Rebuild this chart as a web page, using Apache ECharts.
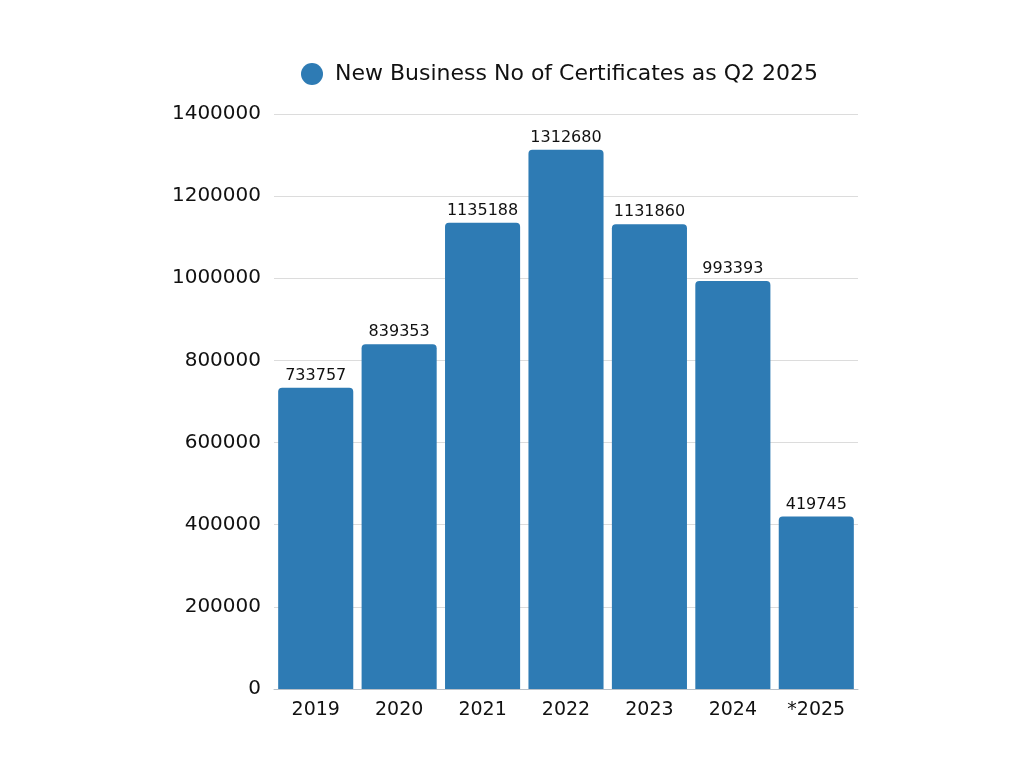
<!DOCTYPE html>
<html><head><meta charset="utf-8">
<script src="https://cdn.jsdelivr.net/npm/echarts@6/dist/echarts.min.js"></script>
<style>html,body{margin:0;padding:0;background:#fff}#c{width:1024px;height:768px}</style>
</head><body><div id="c"></div>
<script>
const categories = ['2019','2020','2021','2022','2023','2024','*2025'];
const values = [733757, 839353, 1135188, 1312680, 1131860, 993393, 419745];
const seriesName = 'New Business No of Certificates as Q2 2025';
const font = '"DejaVu Sans", sans-serif';
const chart = echarts.init(document.getElementById('c'));
chart.setOption({
  animation: false,
  legend: {
    top: 58, left: 296, itemWidth: 22, itemHeight: 22, icon: 'circle',
    textStyle: { fontFamily: font, fontSize: 22, color: '#111', padding: [0, 0, 0, 7] }, itemGap: 10,
    data: [seriesName]
  },
  grid: { left: 274, right: 166, top: 114, bottom: 79, containLabel: false },
  xAxis: {
    type: 'category', data: categories,
    axisTick: { show: false },
    axisLine: { show: true, lineStyle: { color: '#b8c0c8', width: 1 } },
    axisLabel: { fontFamily: font, fontSize: 19, color: '#111', margin: 12 }
  },
  yAxis: {
    type: 'value', min: 0, max: 1400000, interval: 200000,
    axisLine: { show: false }, axisTick: { show: false },
    splitLine: { lineStyle: { color: '#dcdcdc', width: 1 } },
    axisLabel: { fontFamily: font, fontSize: 20, color: '#111', margin: 13, formatter: v => String(v) }
  },
  series: [{
    name: seriesName, type: 'bar', data: values,
    barCategoryGap: '10%',
    itemStyle: { color: '#2e7bb4', borderRadius: [4, 4, 0, 0] },
    label: { show: true, position: 'top', distance: 4, fontFamily: font, fontSize: 16, color: '#111' }
  }]
});
</script></body></html>
